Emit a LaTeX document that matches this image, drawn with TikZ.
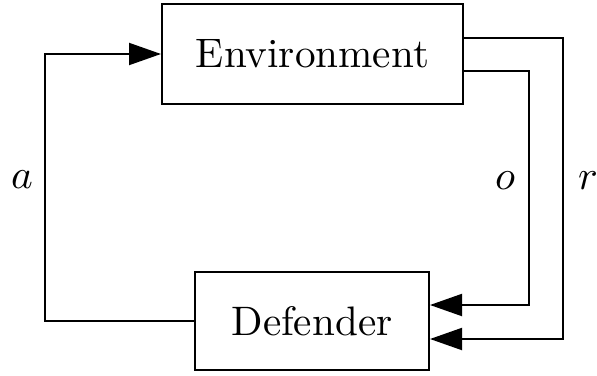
\documentclass[tikz,border=0pt]{standalone}
\usetikzlibrary{arrows.meta,calc}
\newcommand{\enlarged}[1]{\scalebox{2.06}{#1}}
\begin{document}
\begin{tikzpicture}[x=0.5pt,y=-0.5pt,
  block/.style={draw,line width=1pt,inner sep=0pt},
  link/.style={line width=1pt,-{Triangle[length=16pt,width=11pt]}},
  lbl/.style={inner sep=0pt}]
\useasboundingbox (0,0) rectangle (597,375);
% the two blocks
\node[block,minimum width=150.5pt,minimum height=50pt] (env) at (312.5,54) {\enlarged{Environment}};
\node[block,minimum width=117pt,minimum height=49pt] (def) at (312,321) {\enlarged{Defender}};
% turning points of the loops
\coordinate (al) at (45,0);
\coordinate (ol) at (529,0);
\coordinate (rl) at (563,0);
\coordinate (er) at ($(env.east)+(0,-16)$);
\coordinate (eo) at ($(env.east)+(0,17)$);
\coordinate (do) at ($(def.east)+(0,-16)$);
\coordinate (dr) at ($(def.east)+(0,18)$);
% action path
\draw[link] (def.west) -| (al |- env.west) -- (env.west);
% observation and reward paths
\draw[link] (eo) -| (ol |- do) -- (do);
\draw[link] (er) -| (rl |- dr) -- (dr);
% labels
\node[lbl] (la) at (22,180) {\enlarged{$a$}};
\node[lbl] (lo) at (505,181) {\enlarged{$o$}};
\node[lbl] (lr) at (588,181) {\enlarged{$r$}};
\end{tikzpicture}
\end{document}
